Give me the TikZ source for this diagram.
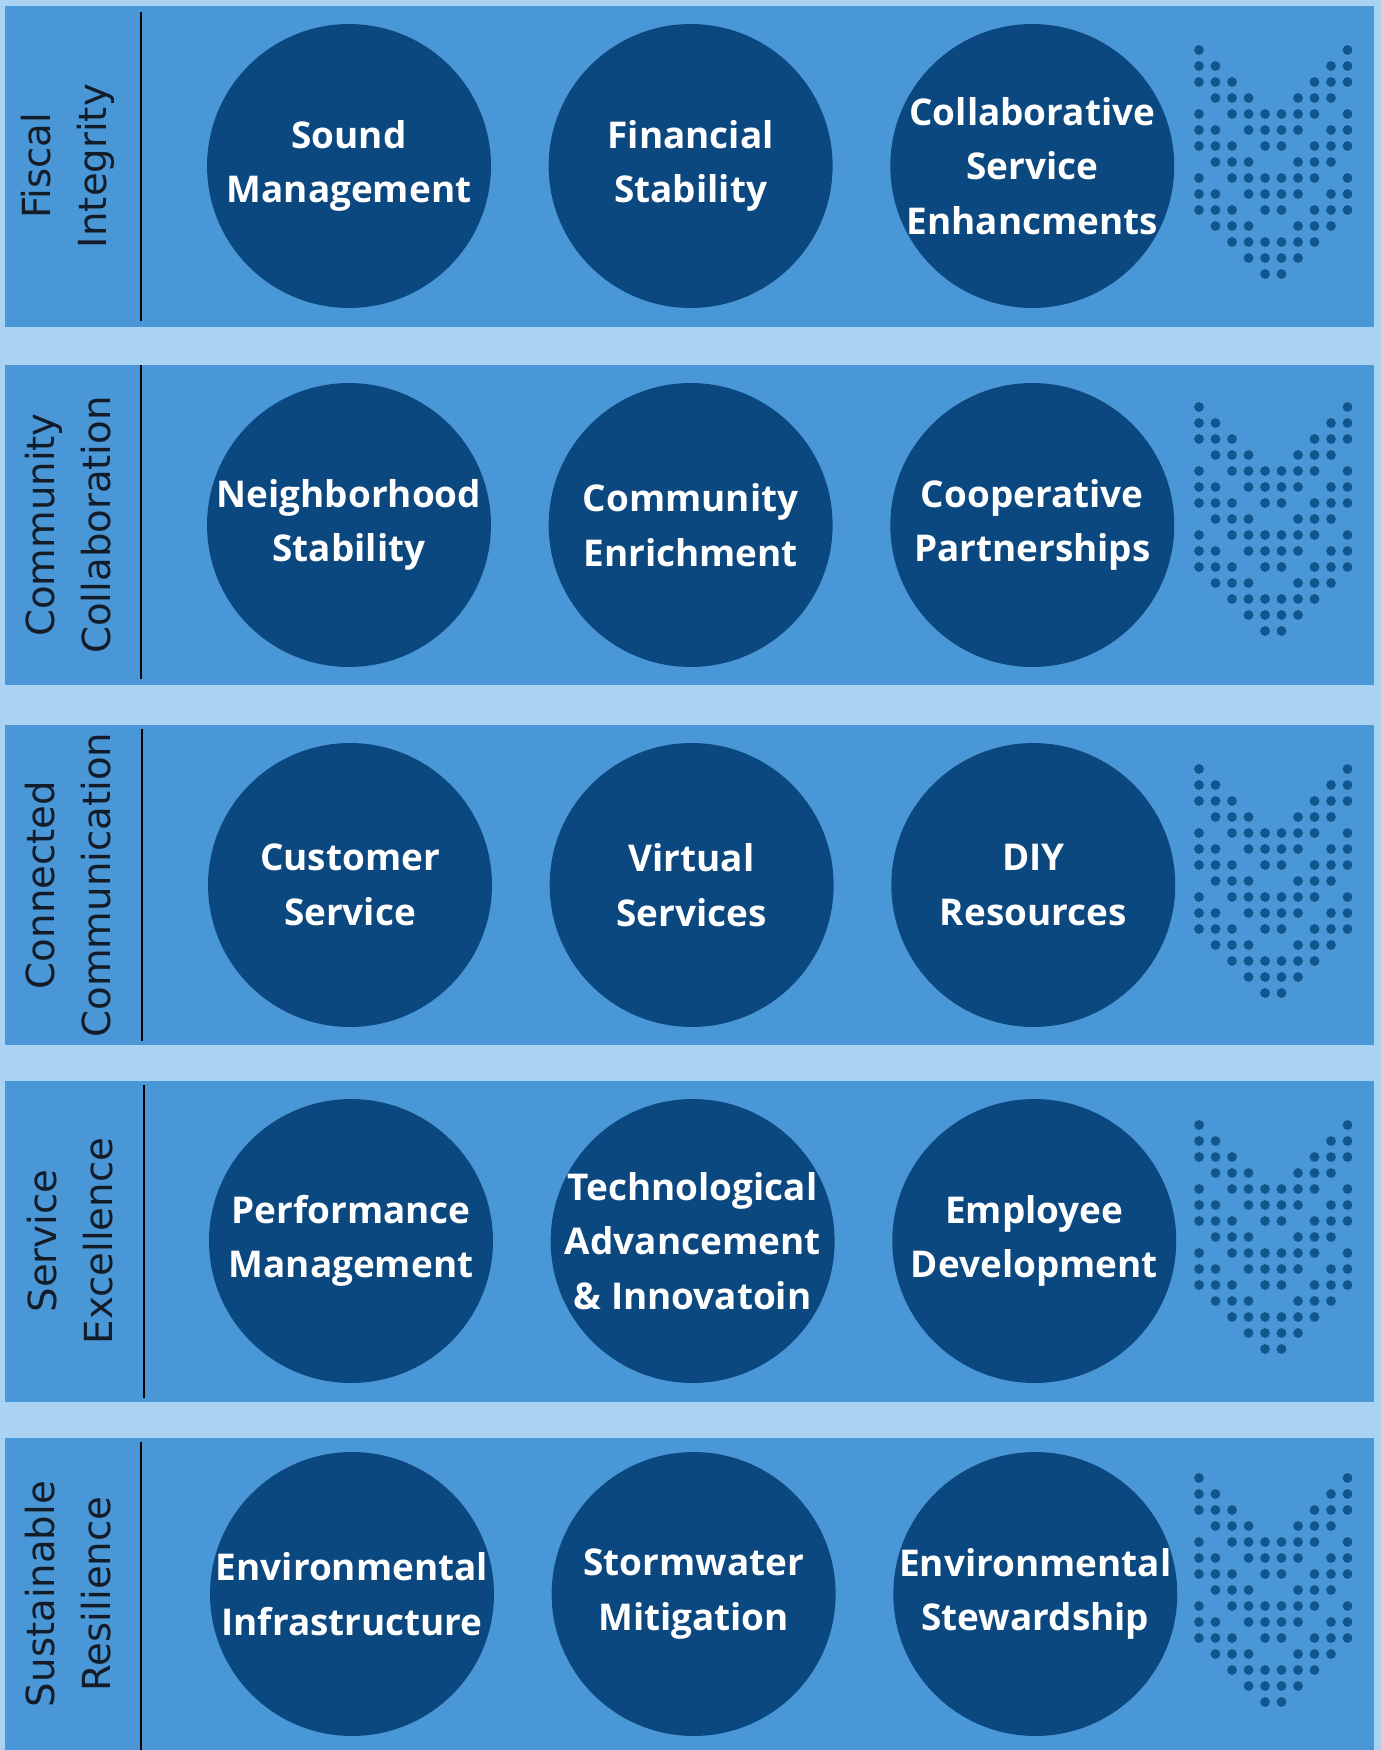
\documentclass[tikz,border=0pt]{standalone}
\usepackage{fontspec}
\newfontfamily\goalfont{Open Sans}
\newfontfamily\pillarfont{DejaVu Sans}
\usetikzlibrary{positioning}
\usepackage{xcolor}
\definecolor{paleblue}{RGB}{170,210,243}
\definecolor{bandblue}{RGB}{74,151,215}
\definecolor{navyblue}{RGB}{12,72,128}
\definecolor{dotblue}{RGB}{18,86,142}
\definecolor{inkdark}{RGB}{20,28,40}

\tikzset{
  band/.style={fill=bandblue},
  divider/.style={draw=black, line width=1.1pt},
  pillar/.style={rotate=90, align=center, text=inkdark, inner sep=0pt, font=\pillarfont\fontsize{22}{32}\selectfont},
  goal/.style={circle, fill=navyblue, text=white, minimum size=5.68cm, inner sep=-30pt, align=center, font=\goalfont\bfseries\fontsize{21}{31}\selectfont},
}

% dotted chevron mark, #1 = top row
\newcommand{\dotgrid}[1]{%
  \foreach \gr/\gcols in {0/{0,9}, 1/{0,1,8,9}, 2/{0,1,2,7,8,9}, 3/{1,2,3,6,7,8},
      4/{0,2,3,4,5,6,7,9}, 5/{0,1,3,4,5,6,8,9}, 6/{0,1,2,4,5,7,8,9}, 7/{1,2,3,6,7,8},
      8/{0,2,3,4,5,6,7,9}, 9/{0,1,3,4,5,6,8,9}, 10/{0,1,2,4,5,7,8,9}, 11/{1,2,3,6,7,8},
      12/{2,3,4,5,6,7}, 13/{3,4,5,6}, 14/{4,5}}
    {\foreach \gc in \gcols
      {\fill[dotblue] ({1199+16.5*\gc},{#1+16*\gr}) circle[radius=0.098cm];}}%
}

\begin{document}
\begin{tikzpicture}[x=0.02cm, y=-0.02cm]
    \fill[paleblue] (0,0) rectangle (1381,1750);
    \useasboundingbox (0,0) rectangle (1381,1750);

    % Fiscal Integrity
    \fill[band] (5,6) rectangle (1374,327);
    \draw[divider] (141,12) -- (141,321);
    \node[pillar] (fiscal) at (68,166) {Fiscal\\Integrity};
    \node[goal] (sound) at (349,166) {Sound\\Management};
    \node[goal, right=1.14cm of sound] (financial) {Financial\\Stability};
    \node[goal, right=1.14cm of financial] (enhance) {Collaborative\\Service\\Enhancments};
    \dotgrid{50}

    % Community Collaboration
    \fill[band] (5,365) rectangle (1374,685);
    \draw[divider] (141,365) -- (141,679);
    \node[pillar] (community) at (68,525) {Community\\Collaboration};
    \node[goal] (neighbor) at (349,525) {Neighborhood\\Stability};
    \node[goal, right=1.14cm of neighbor] (enrich) {Community\\Enrichment};
    \node[goal, right=1.14cm of enrich] (partner) {Cooperative\\Partnerships};
    \dotgrid{407}

    % Connected Communication
    \fill[band] (5,725) rectangle (1374,1045);
    \draw[divider] (142,729) -- (142,1041);
    \node[pillar] (connected) at (68,885) {Connected\\Communication};
    \node[goal] (customer) at (350,885) {Customer\\Service};
    \node[goal, right=1.14cm of customer] (virtual) {Virtual\\Services};
    \node[goal, right=1.14cm of virtual] (diy) {DIY\\Resources};
    \dotgrid{769}

    % Service Excellence
    \fill[band] (5,1081) rectangle (1374,1402);
    \draw[divider] (144,1085) -- (144,1398);
    \node[pillar] (service) at (70,1241) {Service\\Excellence};
    \node[goal] (perform) at (351,1241) {Performance\\Management};
    \node[goal, right=1.14cm of perform] (tech) {Technological\\Advancement\\\& Innovatoin};
    \node[goal, right=1.14cm of tech] (employee) {Employee\\Development};
    \dotgrid{1125}

    % Sustainable Resilience
    \fill[band] (5,1438) rectangle (1374,1750);
    \draw[divider] (141,1442) -- (141,1750);
    \node[pillar] (sustain) at (68,1594) {Sustainable\\Resilience};
    \node[goal] (enviro) at (352,1594) {Environmental\\Infrastructure};
    \node[goal, right=1.14cm of enviro] (storm) {Stormwater\\Mitigation};
    \node[goal, right=1.14cm of storm] (steward) {Environmental\\Stewardship};
    \dotgrid{1478}
\end{tikzpicture}
\end{document}
